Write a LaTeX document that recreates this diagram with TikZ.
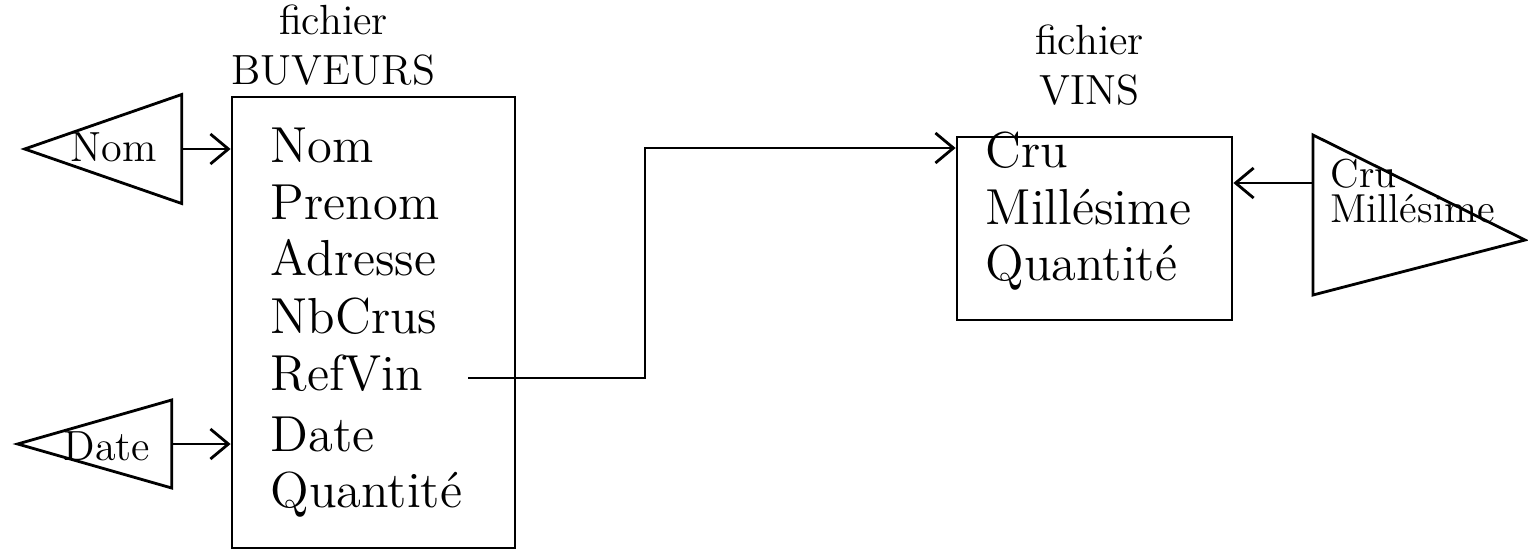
\documentclass[tikz,border=0pt]{standalone}
\usepackage{tikz}
\usetikzlibrary{arrows.meta,positioning,shapes.geometric}
\tikzset{
  filebox/.style={draw, thick, inner sep=0pt},
  field/.style={anchor=west, inner sep=0pt, font=\Large, text height=2ex, text depth=0.4ex},
  title/.style={align=center, inner sep=0pt, font=\large},
  keytri/.style={draw, thick, isosceles triangle, isosceles triangle stretches, inner sep=0pt},
  keytext/.style={inner sep=0pt, align=left, font=\large},
  edge/.style={-{Straight Barb[length=1.8mm, width=3mm]}, thick}
}
\begin{document}
\begin{tikzpicture}
\useasboundingbox (0,0) rectangle (15.28,5.51);
% fichier BUVEURS
\node[filebox, minimum width=2.83cm, minimum height=4.51cm] (buveurs) at (3.735,2.285) {};
\node[title, above=0.1cm of buveurs, xshift=-4mm] (tBuveurs) {fichier\\BUVEURS};
\node[field] (bNom) at (2.70,4.01) {Nom};
\node[field] (bPrenom) at (2.70,3.44) {Prenom};
\node[field] (bAdresse) at (2.70,2.88) {Adresse};
\node[field] (bNbCrus) at (2.70,2.30) {NbCrus};
\node[field] (bRefVin) at (2.70,1.73) {RefVin};
\node[field] (bDate) at (2.70,1.12) {Date};
\node[field] (bQuantite) at (2.70,0.56) {Quantité};
% fichier VINS
\node[filebox, minimum width=2.75cm, minimum height=1.83cm] (vins) at (10.945,3.225) {};
\node[title, above=0.3cm of vins, xshift=-0.5mm] (tVins) {fichier\\VINS};
\node[field] (vCru) at (9.85,3.96) {Cru};
\node[field] (vMillesime) at (9.85,3.39) {Millésime};
\node[field] (vQuantite) at (9.85,2.83) {Quantité};
% cles d'acces
\node[keytri, shape border rotate=180, minimum height=1.57cm, minimum width=1.09cm, anchor=apex] (kNom) at (0.21,4.02) {};
\node[keytext] (kNomText) at (1.14,4.04) {Nom};
\node[keytri, shape border rotate=180, minimum height=1.54cm, minimum width=0.88cm, anchor=apex] (kDate) at (0.14,1.07) {};
\node[keytext] (kDateText) at (1.07,1.05) {Date};
\draw[thick] (13.13,4.16) -- (15.25,3.11) -- (13.13,2.56) -- (13.13,3.68) coordinate (kCru) -- cycle;
\node[keytext, font=\fontsize{11.5}{10}\selectfont, anchor=west] (kCruText) at (13.30,3.60) {Cru\\Millésime};
% liens
\draw[edge] (kNom.east) -- (kNom.east -| buveurs.west);
\draw[edge] (kDate.east) -- (kDate.east -| buveurs.west);
\coordinate (bend) at (6.45,4.03);
\draw[edge] ([xshift=4.5mm]bRefVin.east) -| (bend) -- (bend -| vins.west);
\draw[edge] (kCru) -- (kCru -| vins.east);
\end{tikzpicture}
\end{document}
